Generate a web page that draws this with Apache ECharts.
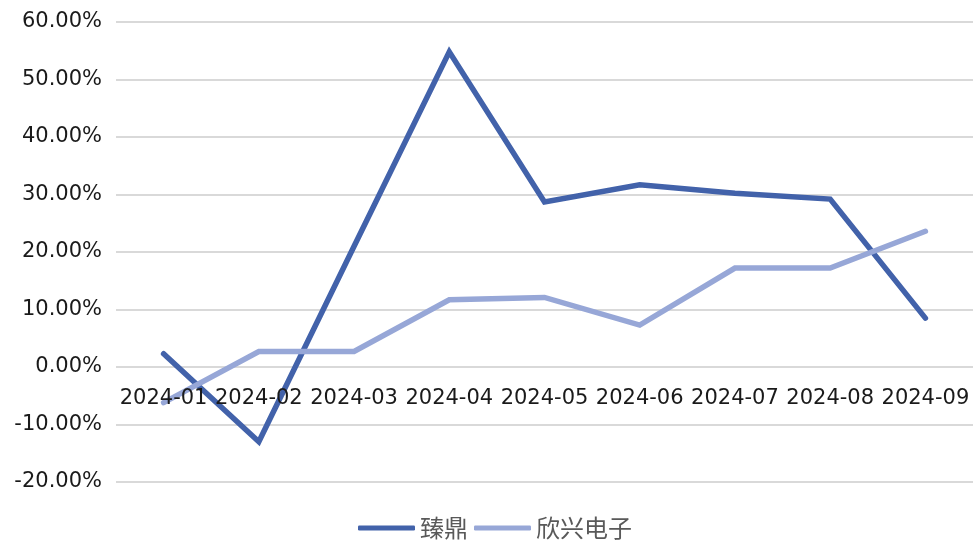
<!DOCTYPE html>
<html>
<head>
<meta charset="utf-8">
<script src="https://cdn.jsdelivr.net/npm/echarts@6/dist/echarts.min.js"></script>
<style>html,body{margin:0;padding:0;background:#fff;}#c{width:973px;height:543px;}</style>
</head>
<body>
<div id="c"></div>
<script>
const categories = ['2024-01','2024-02','2024-03','2024-04','2024-05','2024-06','2024-07','2024-08','2024-09'];
const zhending = [2.3, -13.0, 21.0, 54.8, 28.7, 31.7, 30.2, 29.2, 8.5];
const xinxing = [-6.2, 2.7, 2.7, 11.7, 12.1, 7.3, 17.2, 17.2, 23.6];
const seriesNames = ['臻鼎', '欣兴电子'];

const chart = echarts.init(document.getElementById('c'));
chart.setOption({
  animation: false,
  backgroundColor: '#fff',
  grid: { left: 116, right: -1, top: 22, bottom: 61, containLabel: false },
  legend: {
    data: seriesNames,
    left: 353, top: 511,
    icon: 'roundRect',
    itemWidth: 57, itemHeight: 5, itemGap: 6,
    textStyle: { fontFamily: 'Noto Sans CJK SC', fontSize: 24, color: '#595959' }
  },
  xAxis: {
    type: 'category',
    data: categories,
    boundaryGap: true,
    z: 10,
    offset: -116,
    axisLine: { show: false, onZero: false },
    axisTick: { show: false },
    axisLabel: { fontFamily: 'DejaVu Sans', fontSize: 21, color: '#1a1a1a', margin: 22, interval: 0 }
  },
  yAxis: {
    type: 'value',
    min: -20, max: 60, interval: 10,
    axisLine: { show: false },
    axisTick: { show: false },
    splitLine: { lineStyle: { color: '#d9d9d9', width: 2 } },
    axisLabel: {
      fontFamily: 'DejaVu Sans', fontSize: 21, color: '#1a1a1a', margin: 14,
      formatter: v => v.toFixed(2) + '%'
    }
  },
  series: [
    {
      name: seriesNames[0], type: 'line', data: zhending, symbol: 'none',
      lineStyle: { color: '#4262aa', width: 5.5, cap: 'round', join: 'miter' },
      itemStyle: { color: '#4262aa' }
    },
    {
      name: seriesNames[1], type: 'line', data: xinxing, symbol: 'none',
      lineStyle: { color: '#97a7d7', width: 5.5, cap: 'round', join: 'miter' },
      itemStyle: { color: '#97a7d7' }
    }
  ]
});
</script>
</body>
</html>
